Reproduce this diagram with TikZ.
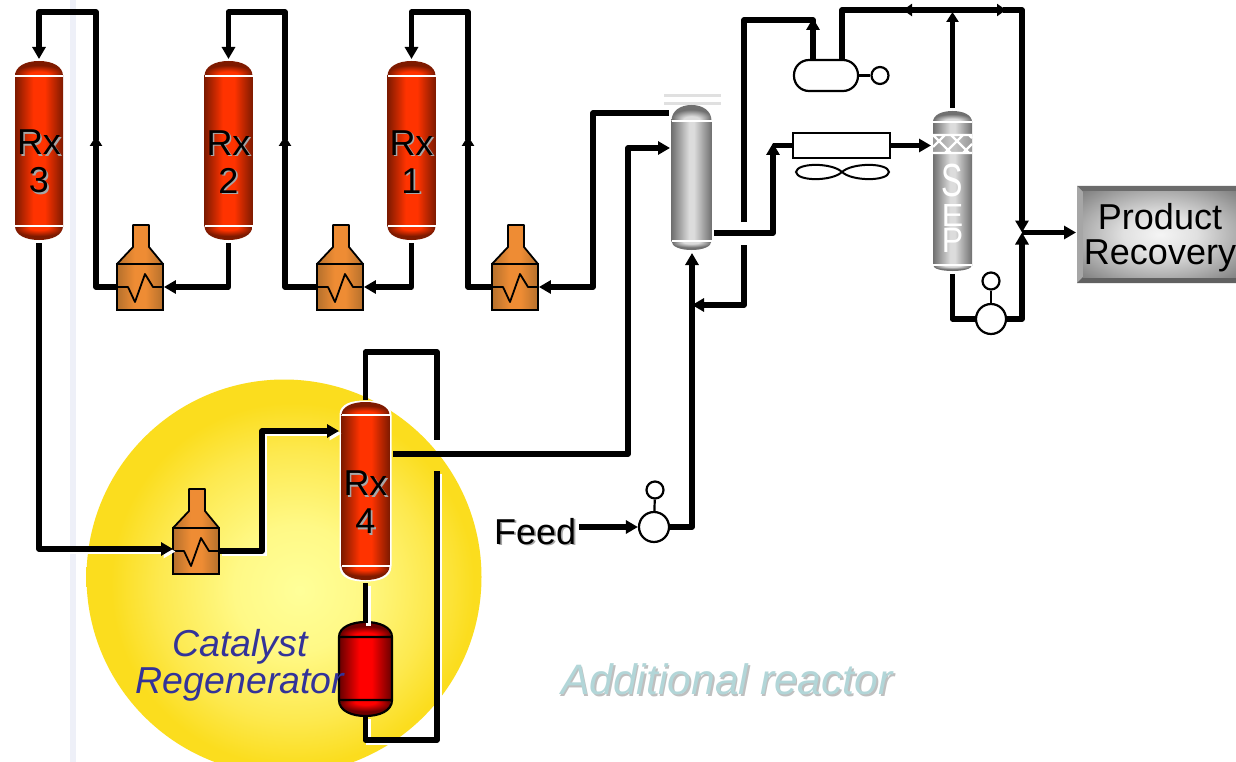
\documentclass[tikz,border=0pt]{standalone}
\usepackage{fontspec}
\setmainfont{Liberation Sans}
\usetikzlibrary{arrows.meta}
\definecolor{rxdark}{HTML}{7E1A00}
\definecolor{rxlite}{HTML}{FF3300}
\definecolor{grdark}{HTML}{707070}
\definecolor{grlite}{HTML}{DCDCDC}
\definecolor{ordark}{HTML}{B5702C}
\definecolor{orlite}{HTML}{EE8C34}
\definecolor{regdark}{HTML}{6E0000}
\definecolor{reglite}{HTML}{FF0000}
\definecolor{blue1}{HTML}{333399}
\definecolor{teal1}{HTML}{B2D6D8}
\definecolor{strip}{HTML}{EEF0F8}
\pgfdeclarehorizontalshading{hRx}{100bp}{color(0bp)=(rxdark);color(25bp)=(rxdark);color(44bp)=(rxlite);color(56bp)=(rxlite);color(75bp)=(rxdark);color(100bp)=(rxdark)}
\pgfdeclarehorizontalshading{hGr}{100bp}{color(0bp)=(grdark);color(25bp)=(grdark);color(47bp)=(grlite);color(53bp)=(grlite);color(75bp)=(grdark);color(100bp)=(grdark)}
\pgfdeclarehorizontalshading{hOr}{100bp}{color(0bp)=(ordark);color(25bp)=(ordark);color(44bp)=(orlite);color(56bp)=(orlite);color(75bp)=(ordark);color(100bp)=(ordark)}
\pgfdeclarehorizontalshading{hReg}{100bp}{color(0bp)=(regdark);color(25bp)=(regdark);color(44bp)=(reglite);color(56bp)=(reglite);color(75bp)=(regdark);color(100bp)=(regdark)}
\pgfdeclareradialshading{tRx}{\pgfpoint{0bp}{-25bp}}{color(0bp)=(rxlite);color(10bp)=(rxlite);color(24bp)=(rxdark);color(50bp)=(rxdark)}
\pgfdeclareradialshading{bRx}{\pgfpoint{0bp}{25bp}}{color(0bp)=(rxlite);color(10bp)=(rxlite);color(24bp)=(rxdark);color(50bp)=(rxdark)}
\pgfdeclareradialshading{tGr}{\pgfpoint{0bp}{-25bp}}{color(0bp)=(grlite);color(10bp)=(grlite);color(24bp)=(grdark);color(50bp)=(grdark)}
\pgfdeclareradialshading{bGr}{\pgfpoint{0bp}{25bp}}{color(0bp)=(grlite);color(10bp)=(grlite);color(24bp)=(grdark);color(50bp)=(grdark)}
\pgfdeclareradialshading{tReg}{\pgfpoint{0bp}{-25bp}}{color(0bp)=(reglite);color(10bp)=(reglite);color(24bp)=(regdark);color(50bp)=(regdark)}
\pgfdeclareradialshading{bReg}{\pgfpoint{0bp}{25bp}}{color(0bp)=(reglite);color(10bp)=(reglite);color(24bp)=(regdark);color(50bp)=(regdark)}
\definecolor{suna}{HTML}{FFFF99}
\definecolor{sunb}{HTML}{FFF986}
\definecolor{sunm}{HTML}{FDE94F}
\definecolor{sunc}{HTML}{FBDD1E}
\pgfdeclareradialshading{sun}{\pgfpoint{2bp}{-1.7bp}}{color(0bp)=(suna);color(8bp)=(sunb);color(17bp)=(sunm);color(23bp)=(sunc);color(50bp)=(sunc)}
\pgfdeclareradialshading{face}{\pgfpointorigin}{color(0bp)=(white!96!black);color(12bp)=(white!88!black);color(25bp)=(white!68!black);color(36bp)=(white!50!black);color(50bp)=(white!50!black)}
\tikzset{
  x=1pt,y=-1pt,
  pipe/.style={draw=black,line width=5.5pt,line join=round},
  tip/.style={-{Triangle[length=12pt,width=13pt]}},
  halo/.style={preaction={draw=white,line width=5pt,transform canvas={xshift=2.5pt,yshift=-2.5pt}}},
  label/.style={inner sep=0pt,align=center,font=\fontsize{36}{38}\selectfont},
  rxlabel/.style={label,yshift=-12pt},
  unit/.style={draw=black,line width=2.2pt,fill=white},
}
% #1 name  #2 cx  #3 top  #4 bottom  #5 half width  #6 upper tangent  #7 lower tangent  #8 colour family
\newcommand\vesselbody[8]{
  \path[shading=t#8]
    ({#2-#5},#6) .. controls ({#2-#5},{#3+.35*(#6-#3)}) and ({#2-.55*#5},#3) .. (#2,#3)
    .. controls ({#2+.55*#5},#3) and ({#2+#5},{#3+.35*(#6-#3)}) .. ({#2+#5},#6) -- cycle;
  \path[shading=b#8]
    ({#2+#5},#7)
    .. controls ({#2+#5},{#4-.35*(#4-#7)}) and ({#2+.55*#5},#4) .. (#2,#4)
    .. controls ({#2-.55*#5},#4) and ({#2-#5},{#4-.35*(#4-#7)}) .. ({#2-#5},#7) -- cycle;
  \path[shading=h#8] ({#2-#5},#6) rectangle ({#2+#5},#7);
  \draw[white,line width=1.6pt] ({#2-#5},#6) -- ({#2+#5},#6) ({#2-#5},#7) -- ({#2+#5},#7);
  \node[inner sep=0pt,minimum width={2*#5},minimum height={#4-#3}] (#1) at (#2,{(#3+#4)/2}) {};
}
% #1 name  #2 x offset  #3 y offset
\newcommand\heater[3]{
  \begin{scope}[shift={(#2,#3)}]
    \path[shading=hOr] (117,264) -- (133,247) -- (133,225) -- (149,225) -- (149,247) -- (163,264) -- cycle;
    \draw[line width=1.8pt,line join=round] (117,264) -- (133,247) -- (133,225) -- (149,225) -- (149,247) -- (163,264);
    \node[draw=black,line width=1.8pt,shading=hOr,inner sep=0pt,minimum width=46pt,minimum height=46pt] (#1) at (140,287) {};
    \draw[line width=1.8pt,line join=round] (118,287) -- (128,287) -- (135,302) -- (145,274) -- (153,287) -- (163,287);
  \end{scope}
}
\newcommand\shadowed[2]{\makebox[0pt][l]{\raisebox{-1.6pt}{\hspace{1.6pt}\textcolor{#1}{#2}}}#2}
\begin{document}
\begin{tikzpicture}
\useasboundingbox (0,0) rectangle (1236,762);
\fill[white] (0,0) rectangle (1236,762);
\fill[strip] (70,0) rectangle (76,762);
\clip (0,0) rectangle (1236,762);
\node[circle,inner sep=0pt,minimum size=395pt,shading=sun] (sun) at (284,577) {};

% reactors
\vesselbody{rx3}{39}{61}{240}{24}{76}{226}{Rx}
\vesselbody{rx2}{228.5}{61}{240}{24}{76}{226}{Rx}
\vesselbody{rx1}{411.5}{61}{240}{24}{76}{226}{Rx}
\draw[white,line width=3pt] (341,415) .. controls (341,405) and (352,402) .. (365,402) .. controls (378,402) and (390,405) .. (390,415) -- (390,566) .. controls (390,577) and (378,580) .. (365,580) .. controls (352,580) and (341,577) .. (341,566) -- cycle;
\vesselbody{rx4}{365.5}{402}{580}{24}{415}{566}{Rx}
% column and separator
\draw[black!12,line width=3pt] (664,96) -- (721,96) (664,103.5) -- (721,103.5);
\vesselbody{col}{691.5}{105}{250}{20}{121}{241}{Gr}
\vesselbody{sep}{952.5}{111}{271}{19.5}{122}{265}{Gr}
\fill[black!30,opacity=.6] (933,135) rectangle (972,153);
\draw[white,line width=2.2pt] (933,135) -- (972,135) (933,153) -- (972,153)
  (933,135) -- (951,153) (951,135) -- (969,153) (945,153) -- (963,135) (933,147) -- (945,135) (963,153) -- (972,144) (969,135) -- (972,138);
% regenerator
\vesselbody{reg}{365.5}{622}{716}{25.5}{637}{700}{Reg}
\draw[black,line width=2.2pt] (339,637) .. controls (339,627) and (352,622) .. (365.5,622) .. controls (379,622) and (392,627) .. (392,637) -- (392,700) .. controls (392,711) and (379,716) .. (365.5,716) .. controls (352,716) and (339,711) .. (339,700) -- cycle
  (339,637) -- (392,637) (339,700) -- (392,700);

% heaters
\heater{hA}{0}{0}
\heater{hB}{200}{0}
\heater{hC}{375}{0}
\heater{hD}{56}{264}

% other units
\node[unit,rounded corners=15pt,minimum width=64pt,minimum height=31pt,inner sep=0pt] (drum) at (826,75.5) {};
\node[unit,circle,minimum size=17pt,inner sep=0pt] (drumc) at (880,75.5) {};
\draw[line width=2.2pt] (drum.east) -- (drumc.west);
\node[unit,minimum width=97pt,minimum height=25pt,inner sep=0pt] (cooler) at (841.5,145.5) {};
\draw[line width=2pt] (796,172) .. controls (797,162.5) and (832,162.5) .. (842,172) .. controls (852,162.5) and (888,162.5) .. (889,172) .. controls (888,181.5) and (852,181.5) .. (842,172) .. controls (832,181.5) and (797,181.5) .. (796,172) -- cycle;
\node[unit,circle,minimum size=30pt,inner sep=0pt] (feedp) at (654,527) {};
\node[unit,circle,minimum size=17pt,inner sep=0pt] (feedc) at (655,490) {};
\draw[line width=2.2pt] (feedp) -- (feedc);
\node[unit,circle,minimum size=30pt,inner sep=0pt] (sepp) at (991,319) {};
\node[unit,circle,minimum size=17pt,inner sep=0pt] (sepc) at (991,281) {};
\draw[line width=2.2pt] (sepp) -- (sepc);

% product recovery
\fill[black!45] (1077,186) rectangle (1243,283);
\fill[black!58] (1077,186) -- (1243,186) -- (1236,192) -- (1083,192) -- cycle;
\fill[black!35] (1077,186) -- (1083,192) -- (1083,277) -- (1077,283) -- cycle;
\fill[black!62] (1077,283) -- (1083,277) -- (1243,277) -- (1243,283) -- cycle;
\path[shading=face] (1083,192) rectangle (1237,277);
\node[inner sep=0pt,align=center,font=\fontsize{36}{35}\selectfont] (prod) at (1160,238) {Product\\Recovery};

% named ports
\coordinate (rx3top) at (39,59);
\coordinate (rx2top) at (228.5,59);
\coordinate (rx1top) at (411.5,59);
\coordinate (rx3bot) at (39,243);
\coordinate (rx2bot) at (228.5,243);
\coordinate (rx1bot) at (411.5,243);
\coordinate (rx4in) at (339,431);
\coordinate (rx4out) at (393,454);
\coordinate (rx4top) at (365.5,400);
\coordinate (rx4bot) at (365.5,583);
\coordinate (regtop) at (365.5,623);
\coordinate (regbot) at (365.5,716);
\coordinate (coltopout) at (669,113);
\coordinate (colside) at (670,148);
\coordinate (colbot) at (692,253);
\coordinate (colout) at (714,233);
\coordinate (feedjoin) at (692,305);
\coordinate (hpa) at (744,245);
\coordinate (hpb) at (744,222);
\coordinate (drumin) at (813,60);
\coordinate (drumout) at (842,60);
\coordinate (septop) at (952.5,108);
\coordinate (sepbot) at (952.5,274);
\coordinate (sepfeed) at (931,145.5);
\coordinate (junct) at (1022,232.5);
\coordinate (feedtext) at (579,527);
\coordinate (loopa) at (437,440);
\coordinate (loopb) at (437,471);
\coordinate (prodin) at (1076,232.5);
\coordinate (hDin) at (173,549);
\coordinate (hDout) at (219,551);

% connectors: top train
\draw[pipe,-{Triangle[length=10pt,width=12pt]}] (hA.west) -- (96,287) -- (96,136);
\draw[pipe,tip] (96,140) -- (96,12) -- (39,12) -- (rx3top);
\draw[pipe,-{Triangle[length=10pt,width=12pt]}] (hB.west) -- (285,287) -- (285,136);
\draw[pipe,tip] (285,140) -- (285,12) -- (228.5,12) -- (rx2top);
\draw[pipe,-{Triangle[length=10pt,width=12pt]}] (hC.west) -- (468,287) -- (468,136);
\draw[pipe,tip] (468,140) -- (468,12) -- (411.5,12) -- (rx1top);
\draw[pipe,tip] (rx2bot) -- (228.5,287) -- (hA.east);
\draw[pipe,tip] (rx1bot) -- (411.5,287) -- (hB.east);
\draw[pipe,tip] (coltopout) -- (593,113) -- (593,287) -- (hC.east);
% Rx3 to Rx4
\draw[pipe,tip,halo] (rx3bot) -- (39,549) -- (hDin);
\draw[pipe,tip,halo] (hDout) -- (262,551) -- (262,431) -- (rx4in);
\draw[pipe,tip] (rx4out) -- (628,454) -- (628,148) -- (colside);
% catalyst loop
\draw[pipe] (rx4top) -- (365.5,352) -- (437,352) -- (loopa);
\draw[pipe,halo] (loopb) -- (437,740) -- (365.5,740) -- (regbot);
\draw[pipe,halo] (rx4bot) -- (regtop);
% feed
\draw[pipe,tip] (feedtext) -- (feedp.west);
\draw[pipe,tip] (feedp.east) -- (692,527) -- (colbot);
\draw[pipe,tip] (hpa) -- (744,305) -- (feedjoin);
% overhead
\draw[pipe] (hpb) -- (744,20) -- (813,20) -- (drumin);
\draw[pipe,tip] (drumin) -- (813,18);
\draw[pipe,tip] (colout) -- (773,233) -- (773,143);
\draw[pipe] (773,145.5) -- (cooler.west);
\draw[pipe,tip] (cooler.east) -- (sepfeed);
\draw[pipe] (drumout) -- (842,10) -- (952,10);
\draw[pipe,-{Triangle[length=9pt,width=12pt]}] (920,10) -- (903,10);
\draw[pipe,-{Triangle[length=10pt,width=12pt]}] (septop) -- (952.5,12);
\draw[pipe,-{Triangle[length=9pt,width=12pt]}] (950,10) -- (1006,10);
\draw[pipe,tip] (1003,10) -- (1022,10) -- (junct);
\draw[pipe] (sepbot) -- (952.5,319) -- (sepp.west);
\draw[pipe,tip] (sepp.east) -- (1022,319) -- (junct);
\draw[pipe,tip] (junct) -- (prodin);

% labels
\node[rxlabel] at (rx3.center) {\shadowed{black!35}{Rx}\\\shadowed{black!35}{3}};
\node[rxlabel] at (rx2.center) {\shadowed{black!35}{Rx}\\\shadowed{black!35}{2}};
\node[rxlabel] at (rx1.center) {\shadowed{black!35}{Rx}\\\shadowed{black!35}{1}};
\node[rxlabel] at (rx4.center) {\shadowed{black!35}{Rx}\\\shadowed{black!35}{4}};
\node[inner sep=0pt,text=white,align=center,font=\fontsize{32}{26}\selectfont] at (952.5,208) {\scalebox{1}[1.45]{S}\\[4pt]E\\\scalebox{1}[1.1]{P}};
\node[label,anchor=west] at (494,532) {\shadowed{black!35}{Feed}};
\node[label,text=blue1,font=\itshape\fontsize{37.5}{37}\selectfont] at (240,665) {Catalyst\\Regenerator};
\node[label,anchor=west,text=teal1,font=\itshape\fontsize{42.6}{44}\selectfont] at (561,680) {\shadowed{black!25}{Additional reactor}};
\end{tikzpicture}
\end{document}
